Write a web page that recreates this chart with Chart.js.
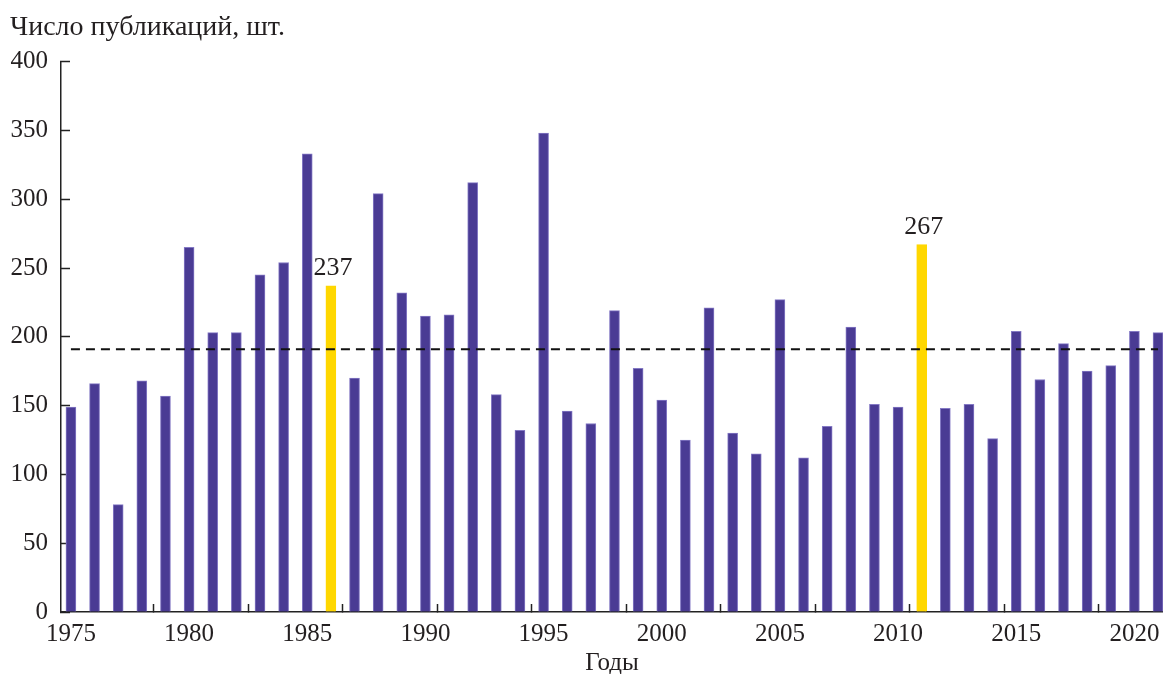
<!DOCTYPE html>
<html lang="ru">
<head>
<meta charset="utf-8">
<title>Число публикаций</title>
<script src="https://cdn.jsdelivr.net/npm/chart.js@4"></script>
<style>
    html, body { margin: 0; padding: 0; background: #fff; }
    #wrap { width: 1163px; height: 674px; position: relative; }
</style>
</head>
<body>
<div id="wrap"><canvas id="chart"></canvas></div>
<script>
// years and publication counts
const years = [
    1975, 1976, 1977, 1978, 1979, 1980, 1981, 1982, 1983, 1984,
    1985, 1986, 1987, 1988, 1989, 1990, 1991, 1992, 1993, 1994,
    1995, 1996, 1997, 1998, 1999, 2000, 2001, 2002, 2003, 2004,
    2005, 2006, 2007, 2008, 2009, 2010, 2011, 2012, 2013, 2014,
    2015, 2016, 2017, 2018, 2019, 2020, 2021
];
const counts = [
    149, 166, 78, 168, 157, 265, 203, 203, 245, 254,
    333, 237, 170, 304, 232, 215, 216, 312, 158, 132,
    348, 146, 137, 219, 177, 154, 125, 221, 130, 115,
    227, 112, 135, 207, 151, 149, 267, 148, 151, 126,
    204, 169, 195, 175, 179, 204, 203
];
const highlightYears = [1986, 2011];
const meanCount = 191;

const labelYears = [1975, 1980, 1985, 1990, 1995, 2000, 2005, 2010, 2015, 2020];
const markYears = [1978.5, 1982.5, 1986.5, 1990.5, 1994.5, 1998.5, 2002.5, 2006.5, 2010.5, 2014.5, 2018.5];
const yTicks = [0, 50, 100, 150, 200, 250, 300, 350, 400];

const FONT = "'Liberation Serif', 'Times New Roman', serif";
const INK = '#231f20';
const BAR = '#4a3b94';
const GOLD = '#ffd700';

const meanLine = {
    id: 'meanLine',
    afterDatasetsDraw(chart) {
        const { ctx, scales } = chart;
        const y = scales.y.getPixelForValue(meanCount);
        const x1 = scales.x.getPixelForValue(years[0]);
        const x2 = scales.x.getPixelForValue(years[years.length - 1]);
        ctx.save();
        ctx.strokeStyle = '#111';
        ctx.lineWidth = 2;
        ctx.setLineDash([9, 6]);
        ctx.beginPath();
        ctx.moveTo(x1, y);
        ctx.lineTo(x2, y);
        ctx.stroke();
        ctx.restore();
    }
};

const peakLabels = {
    id: 'peakLabels',
    afterDatasetsDraw(chart) {
        const { ctx } = chart;
        const meta = chart.getDatasetMeta(0);
        ctx.save();
        ctx.font = '26px ' + FONT;
        ctx.fillStyle = INK;
        ctx.textAlign = 'center';
        ctx.textBaseline = 'alphabetic';
        highlightYears.forEach(year => {
            const i = years.indexOf(year);
            const bar = meta.data[i];
            ctx.fillText(String(counts[i]), bar.x + 2, bar.y - 11);
        });
        ctx.restore();
    }
};

const ctx = document.getElementById('chart').getContext('2d');

new Chart(ctx, {
    type: 'bar',
    data: {
        datasets: [{
            data: years.map((year, i) => ({ x: year, y: counts[i] })),
            backgroundColor: years.map(year => highlightYears.includes(year) ? GOLD : BAR),
            borderColor: years.map(year => highlightYears.includes(year) ? GOLD : '#8479c4'),
            borderWidth: 1,
            barThickness: 10,
            borderSkipped: 'bottom'
        }]
    },
    options: {
        responsive: true,
        maintainAspectRatio: false,
        animation: false,
        layout: { padding: { left: 10, right: 0, top: 0, bottom: 0 } },
        plugins: {
            legend: { display: false },
            tooltip: { enabled: false },
            title: {
                display: true,
                text: 'Число публикаций, шт.',
                align: 'start',
                color: INK,
                font: { family: FONT, size: 28, weight: 'normal' },
                padding: { top: 11, bottom: 17 }
            }
        },
        scales: {
            x: {
                type: 'linear',
                offset: false,
                min: 1974.58,
                max: 2021.21,
                afterBuildTicks: axis => {
                    axis.ticks = labelYears.concat(markYears)
                        .sort((a, b) => a - b)
                        .map(v => ({ value: v }));
                },
                afterFit: axis => {
                    axis.height = 62;
                    axis.paddingLeft = 0;
                    axis.paddingRight = 0;
                },
                ticks: {
                    autoSkip: false,
                    maxRotation: 0,
                    padding: 15,
                    color: INK,
                    font: { family: FONT, size: 25 },
                    callback: value => labelYears.includes(value) ? String(value) : ''
                },
                grid: {
                    offset: false,
                    drawOnChartArea: false,
                    tickLength: -8,
                    tickWidth: 1.5,
                    tickColor: c => (c.tick && markYears.includes(c.tick.value)) ? '#222' : 'rgba(0,0,0,0)'
                },
                border: { display: true, color: '#222', width: 1.5 },
                title: {
                    display: true,
                    text: 'Годы',
                    color: INK,
                    font: { family: FONT, size: 25, lineHeight: 1 },
                    padding: { top: 2, bottom: -2 }
                }
            },
            y: {
                min: 0,
                max: 400,
                afterBuildTicks: axis => {
                    axis.ticks = yTicks.map(v => ({ value: v }));
                },
                afterFit: axis => { axis.width = 51; },
                ticks: {
                    padding: 22,
                    color: INK,
                    font: { family: FONT, size: 25 },
                    callback: value => String(value)
                },
                grid: {
                    drawOnChartArea: false,
                    tickLength: -9,
                    tickWidth: 1.5,
                    tickColor: '#222'
                },
                border: { display: true, color: '#222', width: 1.5 }
            }
        }
    },
    plugins: [meanLine, peakLabels]
});
</script>
</body>
</html>
